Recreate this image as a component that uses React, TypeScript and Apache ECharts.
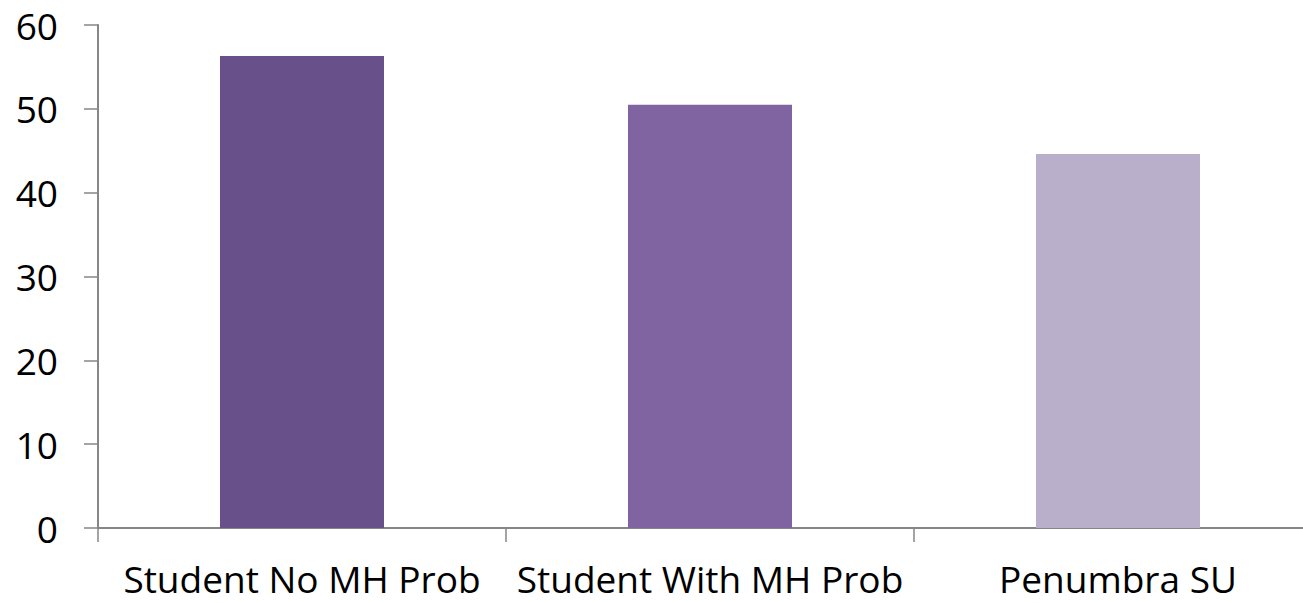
import React, { useEffect, useRef } from "react";
import * as echarts from "echarts";

const categories = ["Student No MH Prob", "Student With MH Prob", "Penumbra SU"];
const values = [56.3, 50.5, 44.6];
const barColors = ["#68518A", "#8064A2", "#B9AFCA"];
const yTicks = { min: 0, max: 60, interval: 10 };

export default function App() {
  const ref = useRef<HTMLDivElement>(null);
  useEffect(() => {
    if (!ref.current) return;
    const chart = echarts.init(ref.current, undefined, { renderer: "svg" });
    const font = "'Open Sans', sans-serif";
    chart.setOption({
      animation: false,
      grid: { left: 98, right: 8, top: 25, bottom: 75, containLabel: false },
      xAxis: {
        type: "category",
        data: categories,
        boundaryGap: true,
        axisLine: { show: true, lineStyle: { color: "#868686", width: 2 } },
        axisTick: { show: true, length: 14, alignWithLabel: false, lineStyle: { color: "#868686", width: 1.5 } },
        axisLabel: { color: "#000", fontSize: 37, fontFamily: font, margin: 32, interval: 0 },
        splitLine: { show: false },
      },
      yAxis: {
        type: "value",
        min: yTicks.min,
        max: yTicks.max,
        interval: yTicks.interval,
        axisLine: { show: true, lineStyle: { color: "#868686", width: 2 } },
        axisTick: { show: true, length: 14, lineStyle: { color: "#868686", width: 1.5 } },
        axisLabel: { color: "#000", fontSize: 37, fontFamily: font, margin: 40 },
        splitLine: { show: false },
      },
      series: [
        {
          type: "bar",
          barWidth: 164,
          data: values.map((v, i) => ({ value: v, itemStyle: { color: barColors[i] } })),
        },
      ],
    });
    return () => chart.dispose();
  }, []);
  return (
    <div style={{ position: "fixed", left: 0, top: 0, width: 1303, height: 603, overflow: "hidden", background: "#fff" }}>
      <div ref={ref} style={{ width: 1330, height: 603 }} />
    </div>
  );
}
